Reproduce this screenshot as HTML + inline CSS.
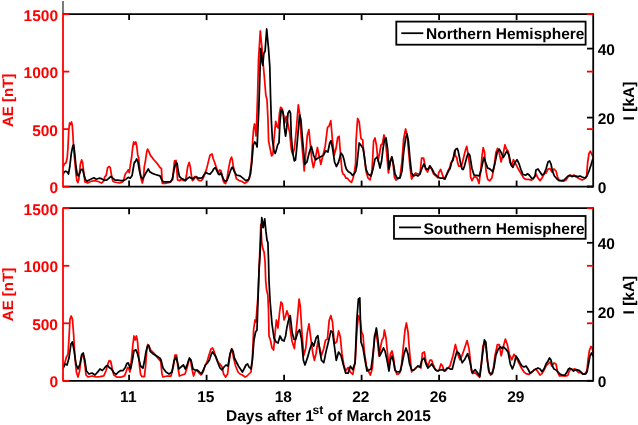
<!DOCTYPE html>
<html><head><meta charset="utf-8"><style>
html,body{margin:0;padding:0;background:#fff;width:638px;height:425px;overflow:hidden;}
svg{display:block;will-change:transform;}
text{font-family:"Liberation Sans",sans-serif;font-weight:bold;font-size:15.5px;text-rendering:geometricPrecision;}
</style></head><body>
<svg width="638" height="425" viewBox="0 0 638 425">
<line x1="63.0" y1="1" x2="63.0" y2="14" stroke="#7a7a7a" stroke-width="2"/>
<clipPath id="c1"><rect x="63.0" y="14.2" width="530.2" height="172.4"/></clipPath>
<g clip-path="url(#c1)" fill="none" stroke-linejoin="round" stroke-linecap="round">
<polyline points="62.8,167.0 64.7,163.6 66.0,162.7 67.2,158.0 68.0,147.0 68.8,130.0 69.6,123.0 70.5,124.5 71.5,122.0 72.2,125.0 72.9,134.5 73.6,147.6 74.7,160.0 76.0,174.0 76.9,180.6 77.9,182.5 78.8,179.6 80.3,164.6 81.6,159.9 82.6,162.7 84.1,175.9 85.0,182.0 87.8,183.0 90.6,181.5 94.4,180.6 98.2,181.5 101.5,183.0 103.8,181.1 104.8,176.8 106.2,175.4 107.6,167.9 109.0,166.5 110.2,167.4 111.4,174.5 112.8,181.1 114.2,182.0 117.0,182.5 119.8,183.0 122.7,182.0 124.1,178.2 125.5,173.5 126.9,172.1 128.3,169.8 129.3,172.6 130.2,166.0 131.6,157.5 132.6,148.0 133.7,142.0 134.8,144.1 135.8,142.0 136.7,145.5 137.7,154.7 138.7,158.3 139.8,169.6 140.9,178.1 142.3,183.0 143.3,179.5 144.3,166.7 145.4,161.1 146.6,152.6 147.6,149.1 149.0,151.9 150.4,155.4 153.9,159.7 157.5,163.9 160.0,167.5 161.4,168.4 162.3,183.4 165.0,183.4 169.8,182.5 172.6,179.6 174.5,160.8 176.0,160.5 177.6,180.0 179.4,180.6 181.8,179.4 183.5,180.6 185.3,180.6 186.5,175.3 187.6,167.1 189.2,162.4 190.4,167.1 191.2,174.1 192.4,180.6 193.5,180.0 194.7,176.5 196.5,176.5 197.6,179.4 199.4,180.6 201.2,180.6 202.9,178.8 204.7,174.1 206.5,169.4 208.2,162.4 210.0,155.3 212.1,154.0 213.2,158.8 214.4,161.8 216.2,167.1 217.4,170.6 218.5,172.4 219.7,170.0 220.9,170.6 222.1,175.3 223.2,180.6 224.4,183.0 225.6,183.5 226.8,180.0 227.9,172.9 229.1,165.9 230.3,160.0 231.5,157.1 232.4,160.0 233.2,165.9 234.4,170.6 236.4,178.7 239.2,180.6 242.0,181.5 244.8,183.4 247.6,181.5 249.5,177.8 251.4,162.7 252.6,142.0 253.5,130.0 254.5,124.0 255.3,128.0 256.0,136.0 256.8,118.0 257.6,95.0 258.5,60.0 260.3,31.0 262.0,48.5 263.3,65.3 264.6,80.0 265.8,95.0 267.0,100.0 268.0,120.0 268.6,141.0 269.9,147.7 271.6,155.9 272.9,154.3 274.0,139.4 275.7,121.3 276.9,126.3 278.2,128.0 279.5,113.1 280.6,107.3 281.8,108.2 283.1,113.1 284.8,123.0 286.1,116.4 287.2,119.7 288.4,126.3 289.7,132.9 291.3,149.3 292.7,154.3 294.3,149.0 295.9,134.5 297.1,119.7 298.3,104.9 299.6,113.1 300.9,132.9 302.5,151.0 303.7,164.0 304.2,171.0 305.6,155.3 307.3,135.2 308.9,129.6 310.3,144.2 311.8,159.8 313.4,167.6 315.2,159.8 317.4,147.5 319.0,155.3 320.8,164.3 323.0,155.3 325.2,146.4 327.5,127.4 329.0,126.3 330.8,120.7 332.4,139.7 334.2,155.3 336.0,148.6 337.7,137.5 339.1,136.3 340.4,153.1 342.0,171.0 343.0,174.0 344.4,175.0 345.9,178.2 347.4,178.2 348.8,180.0 350.2,181.5 351.5,182.4 352.9,178.8 354.4,172.4 355.6,163.0 356.1,139.7 357.6,118.5 359.2,121.8 361.0,138.6 362.8,140.0 363.0,145.0 364.4,157.0 366.0,171.0 368.0,178.0 370.0,180.0 372.0,171.0 373.6,141.0 375.0,138.0 376.4,145.0 378.0,161.0 379.6,153.0 381.0,145.0 382.4,144.0 384.0,135.0 385.6,141.0 387.0,157.0 388.4,173.0 390.0,163.0 391.6,157.0 393.0,163.0 394.4,177.0 396.0,180.0 398.0,179.0 400.0,177.0 402.0,161.0 403.6,139.0 405.6,129.0 407.0,135.0 408.4,149.0 410.0,167.0 411.6,179.0 413.6,175.0 415.6,173.0 418.0,174.0 420.0,174.0 421.6,158.0 423.6,158.0 425.6,169.0 427.6,172.0 429.6,166.0 431.6,169.0 433.6,174.0 436.0,176.0 438.0,178.0 438.6,173.0 440.6,169.4 442.2,174.0 444.0,179.0 446.0,176.0 448.0,171.0 450.0,167.0 450.7,163.3 451.8,161.2 453.2,160.5 454.6,150.6 455.6,156.2 456.7,157.6 457.8,163.3 458.8,166.1 459.9,166.1 461.3,166.8 462.7,161.2 464.1,155.5 465.5,149.9 466.8,146.4 467.6,151.3 468.5,156.9 469.4,163.3 470.1,168.2 470.6,177.0 472.0,180.6 474.0,177.0 475.0,176.6 477.1,178.0 479.0,183.4 480.6,172.4 482.1,155.4 483.2,147.7 484.6,152.6 486.0,171.0 487.7,179.4 489.8,180.8 491.9,178.0 494.1,166.7 495.9,152.6 497.6,148.4 499.3,153.3 501.1,161.8 503.2,154.0 504.9,144.8 506.4,149.1 508.2,151.2 510.0,162.5 511.7,166.0 513.4,159.7 515.3,163.2 517.4,167.4 519.5,171.0 521.6,174.5 523.7,178.0 525.8,179.4 528.7,179.4 531.5,180.1 533.6,178.0 535.0,176.5 536.0,174.0 538.0,178.0 540.0,180.6 542.0,178.0 544.0,174.0 546.0,173.0 548.0,169.0 550.0,168.6 552.0,172.0 554.0,169.0 556.0,171.0 557.6,177.0 559.0,180.0 561.6,181.0 564.0,181.0 566.0,180.0 568.0,177.0 570.0,175.0 572.0,176.0 574.0,175.0 576.0,177.0 578.0,178.0 580.0,179.0 582.0,180.0 584.0,179.0 585.6,178.0 586.6,176.0 587.6,163.0 589.0,153.5 590.3,151.2 591.5,153.5 593.0,157.0" stroke="#f00" stroke-width="1.75"/>
<polyline points="62.8,175.0 64.1,172.1 65.6,171.2 67.2,172.1 68.5,174.0 69.8,166.5 71.3,153.3 72.8,145.8 73.7,144.8 74.7,153.3 76.0,166.5 77.3,175.0 78.4,175.9 79.8,173.0 81.1,169.3 82.6,169.3 84.1,175.0 85.4,179.6 86.9,181.1 89.7,179.7 93.9,177.8 96.3,179.2 99.1,178.2 101.5,178.7 103.8,180.1 106.7,180.1 109.0,178.2 110.9,176.4 112.8,178.2 115.1,180.1 117.5,180.1 120.8,180.6 123.6,180.6 126.0,179.2 128.3,177.3 130.2,178.2 132.1,175.4 133.5,167.0 134.4,162.2 134.8,162.5 136.7,159.0 138.1,162.5 139.5,171.0 140.9,176.6 142.6,178.8 144.0,176.6 145.4,173.8 147.1,171.0 148.3,168.9 149.7,171.7 151.8,173.1 155.3,174.5 160.0,175.9 161.8,180.0 163.5,181.8 167.1,181.8 170.6,181.8 172.4,178.8 174.1,169.4 175.9,162.4 177.1,163.5 178.2,170.6 179.4,176.5 181.2,178.2 183.5,179.4 185.3,180.6 187.1,178.8 189.4,177.1 191.2,178.2 192.9,178.8 194.7,177.6 196.5,177.1 198.2,178.2 200.6,178.2 202.4,177.6 204.1,174.7 205.9,172.4 207.6,173.5 210.0,174.1 212.4,171.2 213.8,168.8 215.2,167.6 216.2,169.4 217.4,171.8 218.5,174.1 219.7,174.7 220.6,172.9 221.8,174.7 223.2,178.8 224.4,180.6 225.6,181.2 226.8,180.6 227.9,178.2 229.1,174.7 230.3,171.2 231.5,168.2 232.4,167.1 233.2,168.8 234.4,171.8 236.4,175.0 240.1,175.9 242.9,178.1 245.8,180.6 248.6,179.6 250.5,174.0 251.8,162.7 253.3,144.8 254.8,142.0 256.1,143.9 257.1,147.0 258.9,107.0 260.7,48.5 262.0,61.5 262.8,65.3 263.8,53.7 265.1,51.0 266.7,29.0 268.5,48.5 269.8,66.6 270.5,95.0 271.3,119.7 272.4,139.4 274.0,151.0 275.2,153.4 276.5,149.3 277.8,144.4 279.0,142.7 279.8,124.6 281.1,110.6 282.3,109.8 283.4,114.8 284.4,127.9 285.6,136.2 286.7,127.9 288.0,113.1 289.4,110.6 290.5,113.1 291.3,136.2 292.7,152.6 294.3,160.8 295.5,160.0 296.6,149.3 297.9,134.5 299.6,114.8 300.9,119.7 302.5,139.4 304.2,157.6 304.7,164.3 306.9,162.0 309.1,153.1 311.4,146.4 313.6,155.3 315.8,159.8 318.5,157.6 321.2,156.5 323.4,155.3 325.7,150.9 327.9,152.0 329.7,143.0 331.0,140.8 332.8,149.7 334.6,162.0 336.4,166.5 338.6,162.0 340.9,153.1 342.7,155.3 344.1,160.0 345.3,165.9 346.5,169.4 348.2,171.5 350.6,172.9 352.4,175.3 354.1,173.8 355.6,171.5 356.8,165.9 357.6,158.0 359.2,143.0 361.0,145.3 362.0,147.0 363.0,148.0 364.4,157.0 366.0,169.0 368.0,174.0 371.0,176.0 373.0,169.0 375.0,159.0 377.0,157.0 378.4,161.0 380.0,168.0 381.6,161.0 383.0,149.0 384.4,140.0 386.0,138.0 387.6,149.0 389.0,169.0 390.4,161.0 392.0,157.0 393.6,165.0 395.0,174.0 397.0,178.0 400.0,178.0 402.0,171.0 403.6,153.0 405.6,138.0 407.0,134.0 408.4,141.0 410.0,159.0 411.6,173.0 413.6,176.0 416.0,175.0 418.0,176.0 420.0,174.0 422.0,168.0 424.0,164.0 426.0,169.0 428.4,169.0 430.0,166.0 432.0,169.0 434.0,173.0 436.0,175.0 438.0,177.0 440.0,178.0 443.0,178.0 445.0,179.0 447.0,174.0 449.0,170.0 450.0,168.9 451.4,163.3 453.2,158.4 454.6,152.4 455.6,149.2 457.1,148.5 458.1,150.6 459.2,156.2 460.6,163.3 462.0,168.9 463.1,169.6 464.5,166.1 465.9,160.5 467.3,155.5 468.5,153.4 469.8,155.2 470.8,161.2 471.9,168.2 474.0,175.0 475.0,175.2 479.2,175.9 481.4,168.8 483.8,157.5 485.6,162.5 487.7,168.1 489.8,168.8 492.7,171.7 494.8,163.9 497.3,151.9 499.3,149.1 501.6,153.3 503.2,157.5 504.9,154.7 506.8,151.2 508.9,154.7 511.0,164.6 512.9,167.4 514.5,163.2 517.0,159.7 519.1,163.9 520.9,169.5 523.0,174.5 525.6,175.2 527.5,173.8 529.4,175.2 531.5,178.0 533.2,178.7 535.0,175.9 536.0,170.0 538.0,169.0 540.0,172.0 542.0,175.0 544.0,174.0 546.0,169.0 548.0,162.0 549.6,161.0 551.0,164.0 552.4,171.0 554.4,176.0 557.0,179.0 559.0,180.6 562.0,180.6 564.0,180.0 566.0,178.0 568.0,176.0 570.0,175.4 572.0,176.6 574.0,176.0 576.0,176.0 578.0,176.6 580.0,176.0 582.0,177.0 585.0,178.0 587.0,176.0 589.0,171.0 591.0,165.0 592.8,159.0" stroke="#000" stroke-width="1.75"/>
</g>
<g stroke-width="1.80" fill="none">
<line x1="63.0" y1="14.2" x2="593.2" y2="14.2" stroke="#000"/>
<line x1="63.0" y1="186.6" x2="593.2" y2="186.6" stroke="#000"/>
<line x1="593.2" y1="13.3" x2="593.2" y2="187.4" stroke="#000"/>
<line x1="129.1" y1="14.2" x2="129.1" y2="20.1" stroke="#000"/>
<line x1="129.1" y1="186.6" x2="129.1" y2="180.6" stroke="#000"/>
<line x1="206.6" y1="14.2" x2="206.6" y2="20.1" stroke="#000"/>
<line x1="206.6" y1="186.6" x2="206.6" y2="180.6" stroke="#000"/>
<line x1="284.1" y1="14.2" x2="284.1" y2="20.1" stroke="#000"/>
<line x1="284.1" y1="186.6" x2="284.1" y2="180.6" stroke="#000"/>
<line x1="361.6" y1="14.2" x2="361.6" y2="20.1" stroke="#000"/>
<line x1="361.6" y1="186.6" x2="361.6" y2="180.6" stroke="#000"/>
<line x1="439.1" y1="14.2" x2="439.1" y2="20.1" stroke="#000"/>
<line x1="439.1" y1="186.6" x2="439.1" y2="180.6" stroke="#000"/>
<line x1="516.6" y1="14.2" x2="516.6" y2="20.1" stroke="#000"/>
<line x1="516.6" y1="186.6" x2="516.6" y2="180.6" stroke="#000"/>
<line x1="63.0" y1="186.6" x2="69.3" y2="186.6" stroke="#f00"/>
<line x1="593.2" y1="186.6" x2="587.0" y2="186.6" stroke="#f00"/>
<line x1="63.0" y1="129.1" x2="69.3" y2="129.1" stroke="#f00"/>
<line x1="593.2" y1="129.1" x2="587.0" y2="129.1" stroke="#f00"/>
<line x1="63.0" y1="71.6" x2="69.3" y2="71.6" stroke="#f00"/>
<line x1="593.2" y1="71.6" x2="587.0" y2="71.6" stroke="#f00"/>
<line x1="63.0" y1="14.2" x2="69.3" y2="14.2" stroke="#f00"/>
<line x1="593.2" y1="14.2" x2="587.0" y2="14.2" stroke="#f00"/>
<line x1="593.2" y1="186.6" x2="587.0" y2="186.6" stroke="#000"/>
<line x1="593.2" y1="117.6" x2="587.0" y2="117.6" stroke="#000"/>
<line x1="593.2" y1="48.6" x2="587.0" y2="48.6" stroke="#000"/>
<line x1="63.0" y1="13.3" x2="63.0" y2="187.4" stroke="#f00"/>
</g>
<text transform="translate(58.0,193.20) scale(1,1.000)" fill="#f00" text-anchor="end">0</text>
<text transform="translate(58.0,135.72) scale(1,1.000)" fill="#f00" text-anchor="end">500</text>
<text transform="translate(58.0,78.23) scale(1,1.000)" fill="#f00" text-anchor="end">1000</text>
<text transform="translate(58.0,20.75) scale(1,1.000)" fill="#f00" text-anchor="end">1500</text>
<text transform="translate(597.7,193.20) scale(1,1.000)" fill="#000">0</text>
<text transform="translate(597.7,124.22) scale(1,1.000)" fill="#000">20</text>
<text transform="translate(597.7,55.24) scale(1,1.000)" fill="#000">40</text>
<text transform="translate(13.4,100.4) rotate(-90) scale(1,1.000)" fill="#f00" text-anchor="middle" style="font-size:15px">AE [nT]</text>
<text transform="translate(633.5,101.0) rotate(-90) scale(1,1.000)" fill="#000" text-anchor="middle">I [kA]</text>
<rect x="396.3" y="21.6" width="189.3" height="23.1" fill="#fff" stroke="#000" stroke-width="1.80"/>
<line x1="401.3" y1="33.2" x2="423.3" y2="33.2" stroke="#000" stroke-width="1.75"/>
<text transform="translate(426.0,39.35) scale(1,1.000)" fill="#000">Northern Hemisphere</text>
<clipPath id="c2"><rect x="63.0" y="208.2" width="530.2" height="172.6"/></clipPath>
<g clip-path="url(#c2)" fill="none" stroke-linejoin="round" stroke-linecap="round">
<polyline points="63.0,369.0 64.5,364.0 66.2,357.7 68.0,354.2 69.0,338.0 70.0,319.0 71.2,316.0 72.4,319.0 73.6,334.0 75.0,358.0 76.4,372.0 78.0,377.0 79.6,371.0 81.0,360.0 82.4,354.0 83.6,356.0 85.0,366.0 86.0,375.0 88.0,377.0 92.0,376.0 96.0,377.0 100.0,376.7 103.8,375.9 106.1,370.5 107.7,364.4 109.2,360.6 110.7,361.3 112.3,369.0 113.8,375.1 116.8,377.0 121.4,377.0 124.5,375.9 126.0,372.0 127.6,367.5 128.6,368.0 129.9,372.0 131.4,359.8 132.9,344.5 134.0,336.0 135.2,339.9 136.4,336.0 137.5,341.4 138.6,353.7 139.5,366.0 140.6,374.4 142.1,376.7 144.4,376.7 145.6,366.0 146.7,350.6 147.8,344.5 149.0,346.0 150.5,349.9 153.6,352.9 156.7,356.8 160.0,360.6 160.6,360.0 162.0,374.0 163.0,377.0 167.0,376.0 171.0,376.0 173.4,366.0 175.0,355.0 176.6,355.0 178.0,368.0 179.4,376.0 182.0,375.0 185.0,374.0 187.0,368.0 189.0,360.0 190.6,360.0 192.0,369.0 193.6,376.0 195.0,372.0 197.0,370.0 199.0,373.0 201.0,375.0 203.0,372.0 205.0,366.0 207.0,362.0 209.0,355.0 211.0,349.0 212.6,348.0 214.0,351.0 216.0,358.0 218.0,362.0 220.0,364.0 222.0,367.0 223.6,374.0 225.6,377.0 227.6,374.0 229.0,362.0 230.4,353.0 232.0,349.0 233.6,358.0 235.6,366.0 238.0,372.0 240.0,374.0 242.4,375.0 245.0,377.0 247.0,376.0 249.0,374.0 251.0,372.0 252.4,358.0 253.6,330.0 255.0,320.0 256.0,322.0 257.0,308.0 258.0,296.0 259.6,257.0 260.8,224.5 261.8,243.0 262.9,248.8 264.1,252.4 265.1,262.0 265.7,280.6 266.6,290.0 267.8,294.7 268.5,310.0 269.0,336.0 270.4,340.0 272.0,348.0 273.6,350.0 275.0,334.0 276.4,320.0 278.0,328.0 279.6,312.0 281.0,302.0 282.4,304.0 284.0,320.0 285.6,316.0 286.9,310.9 288.5,315.6 290.2,329.7 292.1,341.5 294.4,348.5 296.3,329.7 297.9,313.2 299.1,299.1 300.3,306.2 301.9,332.1 303.8,355.6 305.7,348.5 307.4,332.1 309.0,323.8 310.9,339.1 312.8,353.2 314.4,360.3 316.1,353.2 317.9,341.5 319.8,348.5 321.5,355.6 323.8,348.5 325.5,340.3 327.4,339.1 329.2,320.3 330.9,315.6 332.5,322.0 334.4,343.8 336.8,341.5 338.6,330.9 340.3,336.8 341.9,353.2 343.8,365.0 345.7,370.9 348.1,367.4 350.4,372.1 352.8,374.4 355.1,362.6 356.8,332.1 358.4,315.6 360.3,320.3 361.6,332.0 363.0,335.0 364.4,352.0 366.4,366.0 368.4,371.0 370.4,375.0 372.4,368.0 374.4,336.0 376.0,333.0 377.6,342.0 379.0,356.0 380.4,348.0 382.0,340.0 383.4,338.0 384.4,330.0 386.0,338.0 387.6,354.0 389.0,368.0 390.4,354.0 392.0,351.0 393.6,358.0 395.0,370.0 397.0,374.4 399.0,373.6 401.0,370.0 403.0,350.0 405.0,330.0 406.4,323.0 408.0,332.0 409.6,352.0 411.6,372.0 413.6,370.0 415.6,368.0 417.6,366.0 419.6,367.0 421.0,368.0 422.4,353.0 424.4,352.0 426.0,362.0 428.0,366.0 430.0,360.0 431.6,360.0 433.0,364.0 435.0,369.0 437.0,371.0 439.0,370.0 441.0,364.0 442.6,366.0 444.0,371.0 446.0,370.0 448.0,368.0 450.0,365.9 453.1,355.2 455.4,344.5 457.6,353.6 459.9,359.8 462.2,355.2 465.3,346.0 467.1,340.6 469.1,349.1 471.4,370.5 472.9,373.5 475.2,372.8 477.5,375.0 479.5,377.3 481.3,364.3 482.9,346.0 484.9,341.4 486.7,353.6 488.5,370.5 490.5,375.0 492.8,372.8 495.1,355.2 497.4,344.5 499.2,344.5 501.2,355.9 503.5,346.0 505.4,339.1 507.3,344.5 509.6,355.2 511.9,359.8 513.9,354.4 516.0,357.0 518.0,361.0 520.0,365.0 522.0,369.0 524.0,372.0 526.0,373.6 529.0,374.4 532.0,372.0 534.0,370.0 536.0,369.0 538.0,372.0 540.0,375.0 542.0,373.6 544.0,370.0 546.0,366.0 548.0,364.0 550.0,362.0 552.0,366.0 554.0,363.0 556.0,364.0 557.6,372.0 559.6,376.0 562.0,375.6 564.0,376.0 565.0,376.2 567.8,375.5 569.0,372.0 570.2,369.4 572.5,369.5 574.9,368.9 576.5,370.5 578.6,372.5 580.5,372.5 582.9,374.1 584.5,374.0 585.6,373.0 587.0,370.0 588.0,360.0 589.5,350.0 591.0,346.5 592.2,348.0 593.0,352.0" stroke="#f00" stroke-width="1.75"/>
<polyline points="63.0,368.0 65.0,364.0 67.0,365.0 69.0,358.0 71.0,344.0 72.4,342.0 74.0,350.0 76.0,364.0 78.0,369.0 80.0,364.0 81.6,355.0 83.2,353.0 84.8,360.0 86.4,371.0 89.0,374.0 92.0,373.0 95.0,375.0 98.0,371.6 100.0,369.0 102.3,370.5 103.8,369.0 106.1,366.0 107.7,365.5 109.2,367.5 111.5,369.0 113.8,372.8 116.1,374.4 118.4,372.0 120.7,370.5 123.0,370.5 125.3,367.5 126.8,363.6 128.3,362.9 129.9,367.5 130.6,369.0 132.2,361.3 134.0,350.6 136.0,349.9 137.5,353.7 139.0,359.8 140.6,366.0 142.9,368.2 144.4,361.3 145.9,352.2 147.5,346.0 148.7,345.3 150.2,351.4 152.8,353.7 156.7,356.0 160.0,358.3 161.0,360.0 163.0,368.0 166.0,372.0 169.0,374.0 172.0,372.0 174.0,361.0 176.0,357.0 177.4,362.0 179.0,369.0 181.0,367.0 183.4,365.0 185.4,369.0 187.4,364.0 189.4,358.0 191.0,360.0 193.0,369.0 195.0,370.0 197.0,370.0 199.4,372.0 201.4,374.0 203.4,370.0 205.4,365.0 207.4,363.0 209.4,360.0 211.4,354.0 212.5,352.0 214.0,354.0 216.0,357.0 218.0,363.0 220.0,368.0 222.0,370.0 224.0,367.0 226.0,365.0 228.0,366.0 230.0,354.0 231.6,349.0 233.0,351.0 234.4,358.0 236.4,362.0 238.4,366.0 240.4,369.0 242.4,372.0 244.0,369.0 246.0,365.0 247.6,364.0 249.0,367.0 251.0,369.0 252.4,360.0 254.0,340.0 255.6,332.0 257.0,330.0 258.0,300.0 259.1,268.8 260.0,255.0 261.8,217.6 263.2,227.6 264.7,218.8 265.9,231.2 267.1,240.6 267.9,242.4 268.5,260.0 269.0,280.6 270.0,300.0 272.0,324.0 274.0,338.0 276.0,342.0 278.0,343.0 280.0,336.0 282.0,340.0 284.0,341.0 285.6,336.0 286.9,327.4 288.5,320.3 290.2,315.6 292.1,332.1 293.9,339.1 295.6,339.5 297.9,332.1 299.6,329.7 301.5,339.1 303.4,360.3 305.0,365.0 307.4,357.9 309.7,349.7 312.1,342.6 313.7,346.2 316.1,337.9 317.9,335.6 319.8,350.9 321.5,360.3 323.8,362.6 326.2,350.9 328.5,341.5 330.9,330.9 332.5,332.0 334.4,346.2 336.3,360.3 338.6,352.1 341.0,355.6 343.4,365.0 345.7,373.2 348.1,373.2 350.4,366.2 352.8,369.7 355.1,362.6 356.8,320.3 358.4,299.1 359.8,297.9 361.0,342.0 363.0,348.0 365.0,360.0 367.0,371.0 369.0,370.0 371.0,369.0 373.0,354.0 375.0,335.0 376.4,328.0 378.0,340.0 379.6,356.0 381.6,352.0 383.6,348.0 385.0,351.0 387.0,360.0 389.0,371.0 390.4,360.0 392.0,356.0 393.6,362.0 395.0,370.0 397.0,372.0 400.0,371.6 402.0,364.0 404.0,354.0 406.0,348.0 408.0,354.0 409.6,364.0 411.6,370.0 414.0,370.0 416.0,368.0 418.0,366.0 420.0,367.0 422.0,360.0 424.0,358.0 426.0,364.0 428.0,368.0 430.0,366.0 431.6,364.0 433.6,367.0 435.6,370.0 438.0,371.0 440.0,370.0 443.0,369.6 445.0,371.0 447.0,368.0 449.0,368.0 450.0,369.0 452.3,369.0 454.5,360.0 456.9,351.3 459.2,353.6 462.2,362.8 464.5,359.8 467.6,353.6 469.9,361.3 472.2,372.8 475.2,369.7 477.5,372.8 479.8,376.6 482.1,358.2 484.4,339.9 485.9,342.5 487.5,361.3 489.4,372.8 491.6,374.3 494.0,367.4 495.9,355.2 498.2,349.1 500.5,346.8 502.0,348.5 503.5,346.8 505.8,349.1 508.1,352.1 510.4,364.3 512.4,368.9 514.2,364.3 516.0,356.0 518.0,359.0 520.0,363.0 522.0,366.0 524.0,367.0 526.0,366.0 528.0,369.0 530.0,373.0 532.0,372.0 534.0,370.0 536.0,369.0 538.0,368.0 540.0,369.0 542.0,371.6 544.0,369.0 546.0,364.0 548.0,361.0 549.6,358.0 551.0,360.0 552.4,366.0 554.0,369.0 556.0,370.0 558.0,372.0 560.0,374.0 562.0,375.0 564.0,375.0 565.0,375.0 567.0,372.0 568.5,369.0 569.7,368.2 571.5,369.0 573.5,371.1 576.3,369.6 579.1,370.4 581.0,372.0 582.9,374.1 584.8,374.1 585.6,374.0 587.0,372.0 588.5,364.0 590.0,356.0 591.4,353.0 593.0,356.0" stroke="#000" stroke-width="1.75"/>
</g>
<g stroke-width="1.80" fill="none">
<line x1="63.0" y1="208.2" x2="593.2" y2="208.2" stroke="#000"/>
<line x1="63.0" y1="380.8" x2="593.2" y2="380.8" stroke="#000"/>
<line x1="593.2" y1="207.4" x2="593.2" y2="381.6" stroke="#000"/>
<line x1="129.1" y1="208.2" x2="129.1" y2="214.2" stroke="#000"/>
<line x1="129.1" y1="380.8" x2="129.1" y2="374.8" stroke="#000"/>
<line x1="206.6" y1="208.2" x2="206.6" y2="214.2" stroke="#000"/>
<line x1="206.6" y1="380.8" x2="206.6" y2="374.8" stroke="#000"/>
<line x1="284.1" y1="208.2" x2="284.1" y2="214.2" stroke="#000"/>
<line x1="284.1" y1="380.8" x2="284.1" y2="374.8" stroke="#000"/>
<line x1="361.6" y1="208.2" x2="361.6" y2="214.2" stroke="#000"/>
<line x1="361.6" y1="380.8" x2="361.6" y2="374.8" stroke="#000"/>
<line x1="439.1" y1="208.2" x2="439.1" y2="214.2" stroke="#000"/>
<line x1="439.1" y1="380.8" x2="439.1" y2="374.8" stroke="#000"/>
<line x1="516.6" y1="208.2" x2="516.6" y2="214.2" stroke="#000"/>
<line x1="516.6" y1="380.8" x2="516.6" y2="374.8" stroke="#000"/>
<line x1="63.0" y1="380.8" x2="69.3" y2="380.8" stroke="#f00"/>
<line x1="593.2" y1="380.8" x2="587.0" y2="380.8" stroke="#f00"/>
<line x1="63.0" y1="323.3" x2="69.3" y2="323.3" stroke="#f00"/>
<line x1="593.2" y1="323.3" x2="587.0" y2="323.3" stroke="#f00"/>
<line x1="63.0" y1="265.8" x2="69.3" y2="265.8" stroke="#f00"/>
<line x1="593.2" y1="265.8" x2="587.0" y2="265.8" stroke="#f00"/>
<line x1="63.0" y1="208.2" x2="69.3" y2="208.2" stroke="#f00"/>
<line x1="593.2" y1="208.2" x2="587.0" y2="208.2" stroke="#f00"/>
<line x1="593.2" y1="380.8" x2="587.0" y2="380.8" stroke="#000"/>
<line x1="593.2" y1="311.8" x2="587.0" y2="311.8" stroke="#000"/>
<line x1="593.2" y1="242.8" x2="587.0" y2="242.8" stroke="#000"/>
<line x1="63.0" y1="207.4" x2="63.0" y2="381.6" stroke="#f00"/>
</g>
<text transform="translate(58.0,387.40) scale(1,1.000)" fill="#f00" text-anchor="end">0</text>
<text transform="translate(58.0,329.88) scale(1,1.000)" fill="#f00" text-anchor="end">500</text>
<text transform="translate(58.0,272.37) scale(1,1.000)" fill="#f00" text-anchor="end">1000</text>
<text transform="translate(58.0,214.85) scale(1,1.000)" fill="#f00" text-anchor="end">1500</text>
<text transform="translate(597.7,387.40) scale(1,1.000)" fill="#000">0</text>
<text transform="translate(597.7,318.38) scale(1,1.000)" fill="#000">20</text>
<text transform="translate(597.7,249.36) scale(1,1.000)" fill="#000">40</text>
<text transform="translate(13.4,294.5) rotate(-90) scale(1,1.000)" fill="#f00" text-anchor="middle" style="font-size:15px">AE [nT]</text>
<text transform="translate(633.5,295.1) rotate(-90) scale(1,1.000)" fill="#000" text-anchor="middle">I [kA]</text>
<rect x="394.0" y="216.0" width="191.6" height="22.8" fill="#fff" stroke="#000" stroke-width="1.80"/>
<line x1="399.0" y1="227.4" x2="421.0" y2="227.4" stroke="#000" stroke-width="1.75"/>
<text transform="translate(423.5,233.60) scale(1,1.000)" fill="#000">Southern Hemisphere</text>
<text transform="translate(128.3,401.6) scale(1,1.000)" text-anchor="middle">11</text>
<text transform="translate(205.8,401.6) scale(1,1.000)" text-anchor="middle">15</text>
<text transform="translate(283.3,401.6) scale(1,1.000)" text-anchor="middle">18</text>
<text transform="translate(360.8,401.6) scale(1,1.000)" text-anchor="middle">22</text>
<text transform="translate(438.3,401.6) scale(1,1.000)" text-anchor="middle">26</text>
<text transform="translate(515.8,401.6) scale(1,1.000)" text-anchor="middle">29</text>
<text transform="translate(226,420.8) scale(1,1.000)">Days after 1<tspan font-size="12.2" dy="-7.2" dx="-1.3">st</tspan><tspan dy="7.2" dx="-0.2"> of March 2015</tspan></text>
</svg></body></html>
